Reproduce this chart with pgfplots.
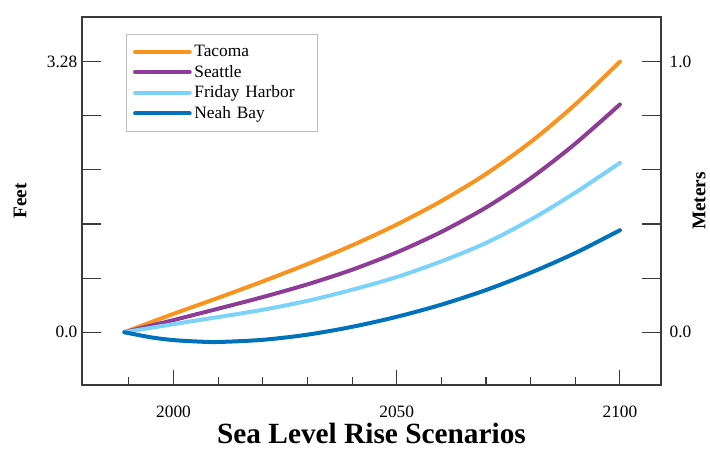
\documentclass[border=0pt]{standalone}
\usepackage{fontspec}
\setmainfont{Liberation Serif}
\usepackage{pgfplots}
\pgfplotsset{compat=1.18}

\definecolor{tacoma}{HTML}{F7931E}
\definecolor{seattle}{HTML}{8E3D96}
\definecolor{friday}{HTML}{7DD3F7}
\definecolor{neah}{HTML}{0072BC}
\definecolor{axisgray}{HTML}{3A3A3A}

% common frame for the stacked axes
\pgfplotsset{
  slr/.style={
    width=434.25pt, height=276pt, scale only axis,
    xmin=1979.5, xmax=2109.2, ymin=-0.195, ymax=1.165,
    axis line style={axisgray, line width=0.8pt},
    every tick/.style={axisgray, line width=0.8pt},
    tick align=inside,
    ticklabel style={font=\fontsize{13}{15}\selectfont},
  }
}

\begin{document}
\begin{tikzpicture}
\begin{axis}[slr, name=ax,
  xtick={2000,2050,2100}, xticklabels={2000,2050,2100},
  minor xtick={1990,2010,2020,2030,2040,2060,2070,2080,2090},
  major tick length=11pt, minor tick length=5.7pt,
  xtick pos=bottom,
  ytick=\empty,
  xticklabel style={anchor=base, yshift=-24pt},
  legend style={at={(0.076,0.954)}, anchor=north west,
    draw=black!25, line width=0.6pt,
    font=\fontsize{13}{15}\selectfont,
    inner xsep=5pt, inner ysep=6pt, row sep=1pt,
    nodes={inner sep=2pt},
    /tikz/every even column/.append style={text width=85pt}},
  legend cell align=left,
  legend image code/.code={\draw[#1] (0pt,0pt) -- (41pt,0pt);},
]
\addplot[tacoma, line width=3pt, smooth, line cap=round] coordinates {
  (1989,0) (2000,0.068) (2010,0.127) (2020,0.188) (2030,0.252) (2040,0.321)
  (2050,0.398) (2060,0.485) (2070,0.585) (2080,0.703) (2090,0.842) (2100,1.0)
};
\addlegendentry{Tacoma}
\addplot[seattle, line width=3pt, smooth, line cap=round] coordinates {
  (1989,0) (2000,0.045) (2010,0.087) (2020,0.130) (2030,0.177) (2040,0.231)
  (2050,0.295) (2060,0.371) (2070,0.461) (2080,0.569) (2090,0.697) (2100,0.842)
};
\addlegendentry{Seattle}
\addplot[friday, line width=3pt, smooth, line cap=round] coordinates {
  (1989,0) (2000,0.030) (2010,0.056) (2020,0.083) (2030,0.116) (2040,0.157)
  (2050,0.204) (2060,0.262) (2070,0.330) (2080,0.416) (2090,0.516) (2100,0.626)
};
\addlegendentry{Friday Harbor}
\addplot[neah, line width=3pt, smooth, line cap=round] coordinates {
  (1989,0) (1995,-0.019) (2000,-0.029) (2005,-0.034) (2010,-0.036) (2020,-0.028)
  (2030,-0.009) (2040,0.020) (2050,0.057) (2060,0.102) (2070,0.156) (2080,0.220)
  (2090,0.293) (2100,0.377)
};
\addlegendentry{Neah Bay}
\end{axis}

% feet scale, left
\begin{axis}[slr,
  xtick=\empty,
  ytick={0,0.2,0.4,0.6,0.8,1},
  yticklabels={0.0,,,,,3.28},
  major tick length=14pt,
  ytick pos=left,
]
\end{axis}

% metre scale, right
\begin{axis}[slr,
  xtick=\empty,
  ytick={0,0.2,0.4,0.6,0.8,1},
  yticklabels={0.0,,,,,1.0},
  major tick length=14pt,
  ytick pos=right, yticklabel pos=right,
  yticklabel style={xshift=3pt},
]
\end{axis}

\node[rotate=90, anchor=north, inner sep=0pt,
  font=\bfseries\fontsize{14.5}{16}\selectfont] at ([xshift=-51.4pt]ax.west) {Feet};
\node[rotate=90, anchor=north, inner sep=0pt,
  font=\bfseries\fontsize{14.5}{16}\selectfont] at ([xshift=23.5pt]ax.east) {Meters};
\node[anchor=base, font=\bfseries\fontsize{22}{26}\selectfont]
  at ([yshift=-44pt]ax.south) {Sea Level Rise Scenarios};

\pgfresetboundingbox
\path[use as bounding box] ([xshift=-61.5pt, yshift=-49.5pt]ax.south west)
  rectangle ([xshift=36.75pt, yshift=12.75pt]ax.north east);
\end{tikzpicture}
\end{document}
